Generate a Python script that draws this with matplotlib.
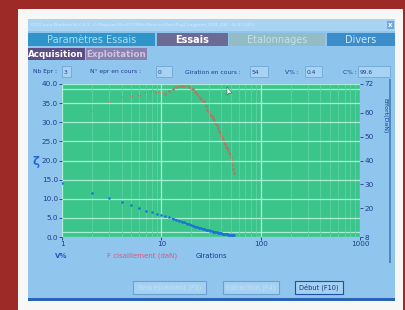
import matplotlib
matplotlib.use("Agg")
import matplotlib.pyplot as plt
from matplotlib.patches import Rectangle, Polygon
from matplotlib.ticker import FixedLocator, NullFormatter

W, H = 406, 310

# --- data ---------------------------------------------------------------
girations = list(range(1, 55))
v_pct = [14.0, 11.6, 10.2, 9.2, 8.3, 7.5, 6.9, 6.5, 6.1, 5.7,
         5.4, 5.1, 4.8, 4.5, 4.2, 4.0, 3.8, 3.5, 3.3, 3.1,
         2.9, 2.7, 2.55, 2.4, 2.25, 2.1, 2.0, 1.9, 1.8, 1.7,
         1.6, 1.5, 1.42, 1.35, 1.28, 1.2, 1.14, 1.08, 1.02, 0.96,
         0.9, 0.85, 0.8, 0.76, 0.72, 0.68, 0.64, 0.6, 0.56, 0.53,
         0.5, 0.46, 0.43, 0.4]
f_cis = [54.1, 60.8, 64.5, 66.4, 66.9, 67.5, 68.5, 69.1, 68.8, 68.5,
         68.0, 69.1, 70.1, 70.7, 71.0, 71.2, 71.2, 71.4, 70.9, 70.4,
         69.8, 68.8, 67.7, 66.6, 65.6, 64.5, 64.8, 63.0, 61.1, 60.2,
         59.2, 58.7, 57.9, 56.8, 55.7, 54.7, 53.6, 52.5, 51.4, 50.4,
         49.4, 48.5, 47.7, 46.7, 45.8, 45.1, 44.2, 43.2, 42.6, 41.6,
         40.0, 38.1, 36.5, 34.9]

left_ticks = [0, 5, 10, 15, 20, 25, 30, 35, 40]
right_ticks = [8, 20, 30, 40, 50, 60, 72]
right_grid = [10, 20, 30, 40, 50, 60, 70]
x_ticks = [1, 10, 100, 1000]

info_fields = [("Nb Epr :", "3"), ("N° epr en cours :", "0"),
               ("Giration en cours :", "54"), ("V% :", "0.4"), ("C% :", "99.6")]

DARK = "#1e3c8c"
GREEN = "#3cc58a"

fig = plt.figure(figsize=(W / 100, H / 100), dpi=100)
fig.patch.set_facecolor("#9e2a27")


def box(x, y, w, h, fc, ec="none", lw=0, z=0):
    fig.patches.append(Rectangle((x / W, 1 - (y + h) / H), w / W, h / H,
                                 transform=fig.transFigure, fc=fc, ec=ec,
                                 lw=lw, zorder=z))


def txt(x, y, s, **kw):
    kw.setdefault("va", "center")
    kw.setdefault("zorder", 6)
    fig.text(x / W, 1 - y / H, s, **kw)


# screen / window
box(18, 9, 385, 301, "#f7f7f5")
box(28, 19, 367, 281, "#90c5ee")
box(28, 19, 367, 12, "#a9d3f3")
txt(31, 25, r"PCG3 pour Windows RL 0.4.3 - C:\Program Files\PCG3Win\Mesures\Vrac\Pcg3_baggrfrm_2001_000 - 01.01.2003",
    fontsize=2.9, color="#d8ecfb")
box(387, 21, 7, 8, "#6fa7dc")
txt(390.5, 25, "x", fontsize=5, color="white", ha="center", fontweight="bold")

# main tabs
tabs = [(28, 127, "#2f95c9", "Paramètres Essais", "#a9dcf3", "normal"),
        (157, 71, "#6e6a96", "Essais", "white", "bold"),
        (229, 96, "#93bcc6", "Etalonnages", "#c3e0e8", "normal"),
        (327, 68, "#3b8ecb", "Divers", "#cfe9fa", "normal")]
for x0, w0, fc, label, tc, fw in tabs:
    box(x0, 33, w0, 13, fc)
    txt(x0 + w0 / 2, 40, label, fontsize=7, color=tc, ha="center", fontweight=fw)

box(28, 48, 57, 12, "#5c4f87")
txt(56, 54.5, "Acquisition", fontsize=6.3, color="white", ha="center", fontweight="bold")
box(86, 48, 61, 12, "#8a80af")
txt(116, 54.5, "Exploitation", fontsize=6.3, color="#cbc4e3", ha="center", fontweight="bold")

# info row
info_pos = [(33, 62, 9), (90, 156, 16), (185, 250, 18), (285, 305, 17), (343, 358, 32)]
for (lab, val), (lx, bx, bw) in zip(info_fields, info_pos):
    txt(lx, 72, lab, fontsize=4.3, color=DARK)
    box(bx, 66, bw, 11, "#a6d3f4", ec="#6c9fd0", lw=0.5)
    txt(bx + 2, 72, val, fontsize=4.3, color=DARK)

# chart frame
box(389, 79, 2.5, 184, "#4d89c7")
box(30, 262.5, 361, 0.8, "#6f9fd2")
box(28, 298, 367, 2.5, "#2b63b3")

# --- chart ---------------------------------------------------------------
ax2 = fig.add_axes([62 / W, 1 - 237 / H, 298 / W, 153 / H])
ax2.set_zorder(2)
ax2.set_facecolor(GREEN)
ax2.set_xscale("log")
ax2.set_xlim(1, 1000)
ax2.set_ylim(8, 72)
ax2.yaxis.tick_right()
ax2.set_yticks(right_ticks)
ax2.set_yticklabels([str(t) for t in right_ticks])
ax2.yaxis.set_minor_locator(FixedLocator(right_grid))
ax2.set_xticks([])
ax2.xaxis.set_minor_locator(FixedLocator([]))
ax2.grid(True, which="minor", axis="y", color="#a9ecd4", lw=0.9)
ax2.tick_params(axis="y", which="major", labelsize=5.2, colors=DARK,
                length=2, width=0.6, pad=1)
ax2.tick_params(axis="y", which="minor", length=0)
ax2.set_axisbelow(True)
for s in ax2.spines.values():
    s.set_visible(False)

ax = fig.add_axes([62 / W, 1 - 237 / H, 298 / W, 153 / H])
ax.set_zorder(3)
ax.patch.set_visible(False)
ax.set_xscale("log")
ax.set_xlim(1, 1000)
ax.set_ylim(0, 40)
ax.set_yticks(left_ticks)
ax.set_yticklabels([f"{t:.1f}" for t in left_ticks])
ax.set_xticks(x_ticks)
ax.set_xticklabels([str(t) for t in x_ticks])
ax.xaxis.set_minor_formatter(NullFormatter())
ax.grid(True, which="major", axis="y", color="#a9ecd4", lw=0.9)
ax.grid(True, which="major", axis="x", color="#b2efd9", lw=0.9)
ax.grid(True, which="minor", axis="x", color="#5cd3a0", lw=0.6)
ax.tick_params(axis="both", which="major", labelsize=5.2, colors=DARK,
               length=2, width=0.6, pad=1)
ax.tick_params(axis="x", which="minor", length=0)
ax.set_axisbelow(True)
for s in ax.spines.values():
    s.set_visible(False)

ax2.scatter(girations, f_cis, s=4, color="#aa7c66", marker="o", lw=0, zorder=3)
ax.scatter(girations, v_pct, s=3.5, color="#1c74d6", marker="o", lw=0, zorder=4)
ax.plot(girations[12:], v_pct[12:], color="#1c74d6", lw=1.2, zorder=4)

# axis captions
txt(36, 161, "ζ", fontsize=8.5, color="#2067cf", ha="center", fontweight="bold")
txt(385, 116, "Effort(DaN)", fontsize=4.5, color=DARK, ha="center", rotation=-90)
txt(55, 256, "V%", fontsize=5, color="#2457c4", fontweight="bold")
txt(107, 256, "F cisaillement (daN)", fontsize=5, color="#e2557d")
txt(196, 256, "Girations", fontsize=5, color=DARK)

# mouse pointer
fig.patches.append(Polygon([(227 / W, 1 - 87 / H), (227 / W, 1 - 95 / H),
                            (229 / W, 1 - 93 / H), (232 / W, 1 - 93 / H)],
                           closed=True, transform=fig.transFigure,
                           fc="white", ec="#333333", lw=0.3, zorder=10))

# buttons
buttons = [(133, 73, "Redressement (F3)", "#c8def2", "#6f9fd2"),
           (223, 56, "Extraction (F4)", "#c8def2", "#6f9fd2"),
           (295, 48, "Début (F10)", "#17357f", "#1f4fa8")]
for bx, bw, label, tc, ec in buttons:
    box(bx, 281, bw, 13, "#a4d0f2", ec=ec, lw=0.8)
    txt(bx + bw / 2, 287.5, label, fontsize=4.8, color=tc, ha="center")

fig.savefig("out.png", dpi=100, facecolor=fig.get_facecolor())
